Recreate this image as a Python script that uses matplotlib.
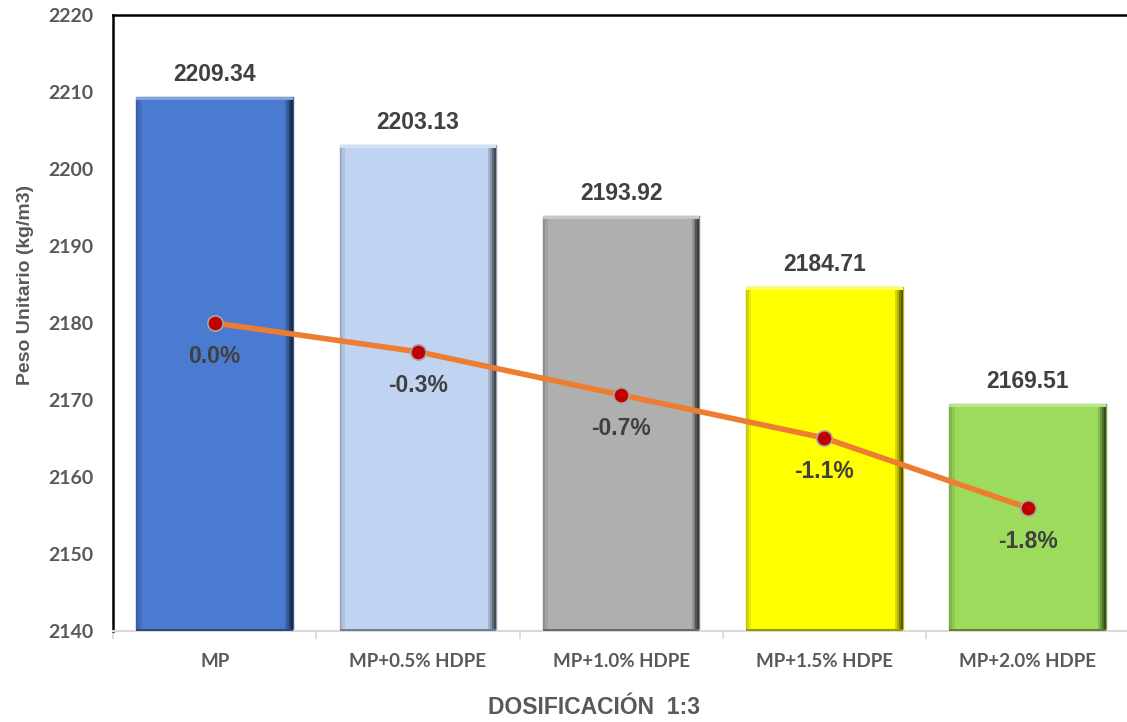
import matplotlib
matplotlib.use("Agg")
import matplotlib.pyplot as plt
from matplotlib.colors import to_rgb

categories = ["MP", "MP+0.5% HDPE", "MP+1.0% HDPE", "MP+1.5% HDPE", "MP+2.0% HDPE"]
values = [2209.34, 2203.13, 2193.92, 2184.71, 2169.51]
pct_change = [0.0, -0.28, -0.70, -1.12, -1.80]
pct_labels = ["0.0%", "-0.3%", "-0.7%", "-1.1%", "-1.8%"]
bar_colors = ["#4A7BD0", "#C0D4F2", "#AFAFAF", "#FFFF00", "#9CDB5C"]
yticks = [2140, 2150, 2160, 2170, 2180, 2190, 2200, 2210, 2220]

TXT = "#404040"
TICK = "#595959"
LABFONT = ["Liberation Sans", "DejaVu Sans"]
TICKFONT = ["Lato", "DejaVu Sans"]


def shade(c, f):
    r, g, b = to_rgb(c)
    return (r * f, g * f, b * f)


def tint(c, f):
    r, g, b = to_rgb(c)
    return (r + (1 - r) * f, g + (1 - g) * f, b + (1 - b) * f)


fig = plt.figure(figsize=(11.27, 7.22), dpi=100)
ax = fig.add_axes([113 / 1127, 1 - 631 / 722, (1127 - 113) / 1127 + 0.002, (631 - 15) / 722])

x = list(range(len(categories)))
bw = 0.77
bars = ax.bar(x, [v - 2140 for v in values], bottom=2140, width=bw, color=bar_colors,
              edgecolor=[shade(c, 0.75) for c in bar_colors], linewidth=1.0, zorder=2)

# bevel effect derived from bar geometry
for b, c in zip(bars, bar_colors):
    x0, w, h, y0 = b.get_x(), b.get_width(), b.get_height(), b.get_y()
    sw = w * 0.05
    # right dark strip (gradient)
    for i, f in enumerate([0.85, 0.7, 0.5, 0.35]):
        ax.bar(x0 + w - sw * (4 - i) / 4, h, bottom=y0, width=sw / 4, align="edge",
               color=shade(c, f), linewidth=0, zorder=3)
    # left strip
    for i, f in enumerate([0.0, 0.1]):
        ax.bar(x0 + sw * i / 3, h, bottom=y0, width=sw / 3, align="edge",
               color=shade(c, 0.8 + f), linewidth=0, zorder=3, alpha=0.8)
    # top highlight and bottom shade
    ax.bar(x0, 0.4, bottom=y0 + h - 0.4, width=w, align="edge",
           color=tint(c, 0.3), linewidth=0, zorder=3)
    ax.bar(x0, 0.3, bottom=y0, width=w, align="edge",
           color=shade(c, 0.6), linewidth=0, zorder=3)
    ax.text(b.get_x() + w / 2, y0 + h + 1.45, f"{y0 + h:.2f}", ha="center", va="bottom",
            fontsize=16.5, fontweight="bold", color=TXT, family=LABFONT, zorder=5)

ax.set_xlim(-0.5, 4.5)
ax.set_ylim(2140, 2220)
ax.set_yticks(yticks)
ax.set_yticklabels([str(t) for t in yticks], fontsize=14, fontweight="bold", color=TICK,
                   family=TICKFONT)
ax.set_xticks(x)
ax.set_xticklabels(categories, fontsize=13.5, fontweight="bold", color=TICK, family=TICKFONT)
ax.tick_params(axis="y", length=0, pad=14)
ax.tick_params(axis="x", length=0, pad=16)
# minor ticks between categories
ax.set_xticks([i + 0.5 for i in range(-1, len(categories))], minor=True)
ax.tick_params(axis="x", which="minor", length=6, color="#D9D9D9", width=1.2)

for s in ["left", "top"]:
    ax.spines[s].set_color("black")
    ax.spines[s].set_linewidth(1.8)
ax.spines["right"].set_visible(False)
ax.spines["bottom"].set_color("#D9D9D9")
ax.spines["bottom"].set_linewidth(1.5)

# secondary axis for percentage line
ax2 = ax.twinx()
ax2.set_ylim(-3.0, 3.0)
ax2.set_xlim(-0.5, 4.5)
ax2.axis("off")
ax2.plot(x, pct_change, color="#ED7D31", linewidth=4, zorder=6, solid_capstyle="round")
ax2.plot(x, pct_change, linestyle="none", marker="o", markersize=11,
         markerfacecolor="#C00000", markeredgecolor="#A6A6A6", markeredgewidth=1.2, zorder=7)
for xi, p, lab in zip(x, pct_change, pct_labels):
    ax2.annotate(lab, (xi, p), xytext=(0, -16), textcoords="offset points", ha="center",
                 va="top", fontsize=16.5, fontweight="bold", color=TXT, family=LABFONT,
                 zorder=8)

fig.text(26 / 1127, 1 - 285 / 722, "Peso Unitario (kg/m3)", rotation=90, ha="center",
         va="center", fontsize=14, fontweight="bold", color=TICK, family=LABFONT)
fig.text(594 / 1127, 1 - 708 / 722, "DOSIFICACIÓN  1:3", ha="center", va="center",
         fontsize=16.5, fontweight="bold", color=TICK, family=LABFONT)

fig.savefig("out.png", dpi=100)
